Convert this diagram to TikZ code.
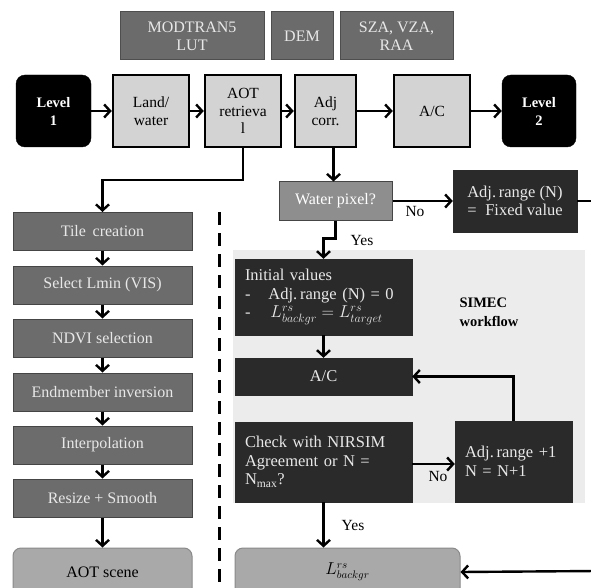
\documentclass[tikz,border=0pt]{standalone}
\usepackage{fontspec}
\setmainfont{Liberation Serif}
\usetikzlibrary{arrows.meta,positioning}
\definecolor{topfill}{HTML}{6B6B6B}
\definecolor{topdraw}{HTML}{4E4E4E}
\definecolor{lightbox}{HTML}{D3D3D3}
\definecolor{colfill}{HTML}{6C6C6C}
\definecolor{coldraw}{HTML}{454545}
\definecolor{waterfill}{HTML}{8E8E8E}
\definecolor{darkfill}{HTML}{2A2A2A}
\definecolor{panelfill}{HTML}{ECECEC}
\definecolor{resfill}{HTML}{A9A9A9}
\definecolor{resdraw}{HTML}{8A8A8A}
\definecolor{ltext}{HTML}{E8E8E8}
\tikzset{
  txt/.style={font=\fontsize{16}{18}\selectfont, align=center, inner sep=2pt},
  topbox/.style={txt, fill=topfill, draw=topdraw, line width=1pt, text=ltext, font=\fontsize{16}{18}\selectfont},
  lightb/.style={txt, fill=lightbox, draw=black, line width=2.4pt, text=black, font=\fontsize{15.5}{17.5}\selectfont},
  levelb/.style={txt, fill=black, draw=black, rounded corners=9pt, text=white, font=\fontsize{14.5}{18}\selectfont\bfseries},
  colbox/.style={txt, fill=colfill, draw=coldraw, line width=1pt, text=ltext, minimum width=179pt, minimum height=38pt},
  waterb/.style={txt, fill=waterfill, draw=coldraw, line width=1pt, text=white},
  darkb/.style={txt, fill=darkfill, draw=darkfill, text=ltext, font=\fontsize{16.5}{18.5}\selectfont},
  resb/.style={txt, fill=resfill, draw=resdraw, line width=1pt, rounded corners=8pt, text=black},
  arr/.style={line width=2.4pt, -{Straight Barb[length=6pt,width=13pt]}},
  plainline/.style={line width=2.4pt},
  lbl/.style={font=\fontsize{15.5}{18}\selectfont, inner sep=0pt, text=black},
}
\begin{document}
\begin{tikzpicture}[x=1pt,y=-1pt]
\clip (0,0) rectangle (591,588);
\fill[white] (0,0) rectangle (591,588);

% SIMEC panel
\fill[panelfill] (233,250) rectangle (585,503);

% top inputs
\node[topbox, minimum width=144pt, minimum height=48pt] (modtran) at (192,36) {MODTRAN5\\LUT};
\node[topbox, minimum width=62pt, minimum height=48pt] (dem) at (302,36) {DEM};
\node[topbox, minimum width=113pt, minimum height=48pt] (sza) at (396.5,36) {SZA, VZA,\\RAA};

% main chain
\node[levelb, minimum width=75pt, minimum height=72pt] (lev1) at (53.5,111) {Level\\1};
\node[lightb, minimum width=76pt, minimum height=72pt] (land) at (151,111) {Land/\\water};
\node[lightb, minimum width=76pt, minimum height=72pt] (aot) at (243,111) {AOT\\retrieva\\l};
\node[lightb, minimum width=61pt, minimum height=72pt] (adj) at (325.5,111) {Adj\\corr.};
\node[lightb, minimum width=76pt, minimum height=72pt] (ac) at (432,111) {A/C};
\node[levelb, minimum width=74pt, minimum height=72pt] (lev2) at (539,111) {Level\\2};

\draw[arr] (lev1) -- (land);
\draw[arr] (land) -- (aot);
\draw[arr] (aot) -- (adj);
\draw[arr] (adj) -- (ac);
\draw[arr] (ac) -- (lev2);

% left column
\node[colbox] (tile) at (102.5,231.5) {Tile\, creation};
\node[colbox] (lmin) at (102.5,285) {Select Lmin (VIS)};
\node[colbox] (ndvi) at (102.5,338) {NDVI selection};
\node[colbox] (endm) at (102.5,392) {Endmember inversion};
\node[colbox] (interp) at (102.5,445) {Interpolation};
\node[colbox] (resize) at (102.5,498) {Resize + Smooth};
\node[resb, minimum width=179pt, minimum height=48pt] (aotscene) at (102.5,572) {AOT scene};

\draw[arr] (aot.south) -- ++(0,32) -| (tile.north);
\draw[arr] (tile) -- (lmin);
\draw[arr] (lmin) -- (ndvi);
\draw[arr] (ndvi) -- (endm);
\draw[arr] (endm) -- (interp);
\draw[arr] (interp) -- (resize);
\draw[arr] (resize) -- (aotscene);

% dashed separator
\coordinate (dtop) at (219,212);
\coordinate (dbot) at (219,600);
\draw[line width=3pt, dash pattern=on 13pt off 8pt] (dtop) -- (dbot);

% right part
\node[waterb, minimum width=113pt, minimum height=38pt] (water) at (335.5,201) {Water pixel?};
\node[darkb, minimum width=124pt, minimum height=62pt, align=left] (fixed) at (515,201) {Adj.\,range (N)\\=\; Fixed value};
\node[darkb, minimum width=177pt, minimum height=76pt, text width=157pt, align=left] (init) at (323.5,297)
  {Initial values\\-\hspace{18pt}Adj.\,range (N) = 0\\-\hspace{20pt}$L^{rs}_{backgr} = L^{rs}_{target}$};
\node[darkb, minimum width=177pt, minimum height=37pt] (ac2) at (323.5,376.5) {A/C};
\node[darkb, minimum width=177pt, minimum height=80pt, text width=157pt, align=left] (check) at (323.5,462)
  {Check with NIRSIM\\Agreement or N =\\N\textsubscript{max}?};
\node[darkb, minimum width=117pt, minimum height=81pt, text width=97pt, align=left] (adjp) at (513.5,461.5)
  {Adj.\,range +1\\N = N+1};
\node[resb, minimum width=225pt, minimum height=48pt] (lback) at (347.5,572) {$L^{rs}_{backgr}$};
\node[font=\fontsize{14.5}{19}\selectfont\bfseries, align=left, inner sep=0pt] (simec) at (489,312) {SIMEC\\workflow};

\draw[arr] ([xshift=8pt]adj.south) -- ([xshift=8pt]adj.south |- water.north);
\draw[arr] (water.east) -- (fixed.west);
\node[lbl] (no1) at (415,212) {No};
\coordinate (redge1) at (596,201);
\draw[plainline] (fixed.east) -- (redge1);
\draw[arr] (water.south) -- ++(0,18) -| (init.north);
\node[lbl] (yes1) at (362,241) {Yes};
\draw[arr] (init) -- (ac2);
\draw[arr] ([yshift=-2pt]check.east) -- ([yshift=-2pt]check.east -| adjp.west);
\node[lbl] (no2) at (438,476) {No};
\draw[arr] (adjp.north) |- (ac2.east);
\draw[arr] (check.south) -- (check.south |- lback.north);
\node[lbl] (yes2) at (353,525) {Yes};
\coordinate (redge2) at (596,571);
\draw[arr] (redge2) -- (lback.east);
\end{tikzpicture}
\end{document}
